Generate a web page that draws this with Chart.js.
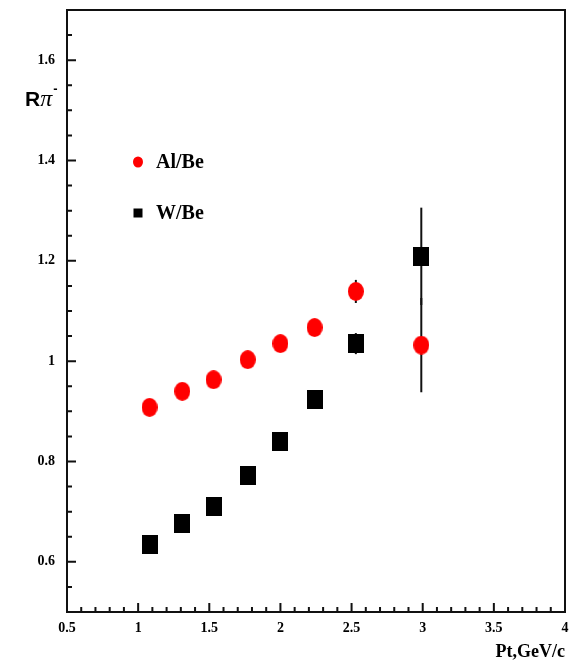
<!DOCTYPE html>
<html>
<head>
<meta charset="utf-8">
<title>R pi- ratio vs Pt</title>
<script src="https://cdn.jsdelivr.net/npm/chart.js@4.4.1/dist/chart.umd.min.js"></script>
<style>
    html, body { margin: 0; padding: 0; background: #fff; }
    #wrap { width: 575px; height: 663px; }
</style>
</head>
<body>
<div id="wrap"><canvas id="ratio-chart"></canvas></div>
<script>
// Data
const ptValues = [1.08, 1.31, 1.53, 1.77, 2.00, 2.24, 2.53, 2.99];
const alBeRatio = [0.908, 0.940, 0.963, 1.003, 1.035, 1.067, 1.139, 1.032];
const alBeError = [0.012, 0.012, 0.012, 0.012, 0.012, 0.014, 0.023, 0.094];
const wBeRatio = [0.635, 0.676, 0.710, 0.773, 0.839, 0.923, 1.035, 1.209];
const wBeError = [0.012, 0.012, 0.012, 0.012, 0.012, 0.014, 0.021, 0.097];
const seriesLabels = ['Al/Be', 'W/Be'];
const xTickValues = [0.5, 1, 1.5, 2, 2.5, 3, 3.5, 4];
const yTickValues = [0.6, 0.8, 1.0, 1.2, 1.4, 1.6];

const COLORS = {
    red: '#ff0000',
    black: '#000000',
    axis: '#111111'
};
const SERIF = "'Liberation Serif', 'DejaVu Serif', serif";
const SANS = "'Liberation Sans', Arial, sans-serif";

const fmt = v => String(Math.round(v * 100) / 100);

// Marker images (slightly taller than wide, like the original)
function makeMarker(shape, w, h, color) {
    const c = document.createElement('canvas');
    c.width = w;
    c.height = h;
    const g = c.getContext('2d');
    g.fillStyle = color;
    if (shape === 'ellipse') {
        g.beginPath();
        g.ellipse(w / 2, h / 2, w / 2, h / 2, 0, 0, Math.PI * 2);
        g.fill();
    } else {
        g.fillRect(0, 0, w, h);
    }
    return c;
}

const toPoints = (xs, ys) => xs.map((x, i) => ({ x: x, y: ys[i] }));

// Vertical error bars, drawn under the markers
const errorBarPlugin = {
    id: 'errorBars',
    beforeDatasetsDraw(chart) {
        const { ctx, scales: { x, y } } = chart;
        ctx.save();
        ctx.strokeStyle = COLORS.axis;
        ctx.lineWidth = 2;
        chart.data.datasets.forEach(ds => {
            ds.data.forEach((p, i) => {
                const px = x.getPixelForValue(p.x);
                ctx.beginPath();
                ctx.moveTo(px, y.getPixelForValue(p.y - ds.errors[i]));
                ctx.lineTo(px, y.getPixelForValue(p.y + ds.errors[i]));
                ctx.stroke();
            });
        });
        ctx.restore();
    }
};

// Box frame with inward major/minor ticks
const framePlugin = {
    id: 'frame',
    afterDraw(chart) {
        const { ctx, chartArea: a, scales: { x, y } } = chart;
        ctx.save();
        ctx.strokeStyle = COLORS.axis;
        ctx.lineWidth = 2;
        ctx.strokeRect(a.left, a.top, a.right - a.left, a.bottom - a.top);

        ctx.beginPath();
        // x ticks every 0.1, major every 0.5
        for (let k = 5; k <= 40; k++) {
            const px = x.getPixelForValue(k / 10);
            const len = k % 5 === 0 ? 9 : 5;
            ctx.moveTo(px, a.bottom);
            ctx.lineTo(px, a.bottom - len);
        }
        // y ticks every 0.05, major every 0.2
        for (let k = 10; k <= 34; k++) {
            const v = k / 20;
            const py = y.getPixelForValue(v);
            const len = k % 4 === 0 ? 9 : 5;
            ctx.moveTo(a.left, py);
            ctx.lineTo(a.left + len, py);
        }
        ctx.stroke();
        ctx.restore();
    }
};

// In-plot legend and the horizontal y-axis title
const annotationPlugin = {
    id: 'annotations',
    afterDraw(chart) {
        const { ctx, chartArea: a } = chart;
        ctx.save();

        // legend
        const lx = a.left + 71;
        const ly1 = a.top + 152;
        const ly2 = a.top + 203;
        ctx.fillStyle = COLORS.red;
        ctx.beginPath();
        ctx.ellipse(lx, ly1, 5, 5.5, 0, 0, Math.PI * 2);
        ctx.fill();
        ctx.fillStyle = COLORS.black;
        ctx.fillRect(lx - 4.5, ly2 - 4.5, 9, 9);

        ctx.font = 'bold 20px ' + SERIF;
        ctx.textBaseline = 'middle';
        ctx.textAlign = 'left';
        ctx.fillText(seriesLabels[0], lx + 18, ly1 + 1);
        ctx.fillText(seriesLabels[1], lx + 18, ly2 + 1);

        // y title: R pi^-
        ctx.textBaseline = 'alphabetic';
        ctx.font = 'bold 21px ' + SANS;
        ctx.fillText('R', 25, 106);
        const rw = ctx.measureText('R').width;
        ctx.font = 'italic 24px ' + SERIF;
        ctx.fillText('\u03C0', 25 + rw, 106);
        const pw = ctx.measureText('\u03C0').width;
        ctx.font = 'bold 13px ' + SANS;
        ctx.fillText('-', 25 + rw + pw + 1, 93);

        ctx.restore();
    }
};

const tickFont = { family: SERIF, size: 14, weight: 'bold' };

const ctx = document.getElementById('ratio-chart').getContext('2d');
const ratioChart = new Chart(ctx, {
    type: 'scatter',
    data: {
        datasets: [
            {
                label: seriesLabels[0],
                data: toPoints(ptValues, alBeRatio),
                errors: alBeError,
                pointStyle: makeMarker('ellipse', 16, 19, COLORS.red),
                pointRadius: 9,
                pointHoverRadius: 9,
                showLine: false
            },
            {
                label: seriesLabels[1],
                data: toPoints(ptValues, wBeRatio),
                errors: wBeError,
                pointStyle: makeMarker('rect', 16, 19, COLORS.black),
                pointRadius: 9,
                pointHoverRadius: 9,
                showLine: false
            }
        ]
    },
    options: {
        responsive: true,
        maintainAspectRatio: false,
        animation: false,
        layout: { padding: { top: 6, right: 10, bottom: 0, left: 0 } },
        plugins: {
            legend: { display: false },
            tooltip: { enabled: false }
        },
        scales: {
            x: {
                type: 'linear',
                min: 0.5,
                max: 4,
                afterBuildTicks: s => { s.ticks = xTickValues.map(v => ({ value: v })); },
                afterFit: s => { s.height = 51; s.paddingLeft = 0; s.paddingRight = 0; },
                grid: { display: false, drawTicks: false },
                border: { display: false },
                ticks: {
                    color: COLORS.black,
                    font: tickFont,
                    padding: 8,
                    maxRotation: 0,
                    autoSkip: false,
                    callback: v => fmt(v)
                },
                title: {
                    display: true,
                    text: 'Pt,GeV/c',
                    align: 'end',
                    color: COLORS.black,
                    font: { family: SERIF, size: 18, weight: 'bold' },
                    padding: 0
                }
            },
            y: {
                min: 0.5,
                max: 1.7,
                afterBuildTicks: s => { s.ticks = yTickValues.map(v => ({ value: v })); },
                afterFit: s => { s.width = 67; s.paddingTop = 0; s.paddingBottom = 0; },
                grid: { display: false, drawTicks: false },
                border: { display: false },
                ticks: {
                    color: COLORS.black,
                    font: tickFont,
                    padding: 12,
                    autoSkip: false,
                    callback: v => fmt(v)
                }
            }
        }
    },
    plugins: [errorBarPlugin, framePlugin, annotationPlugin]
});
</script>
</body>
</html>
